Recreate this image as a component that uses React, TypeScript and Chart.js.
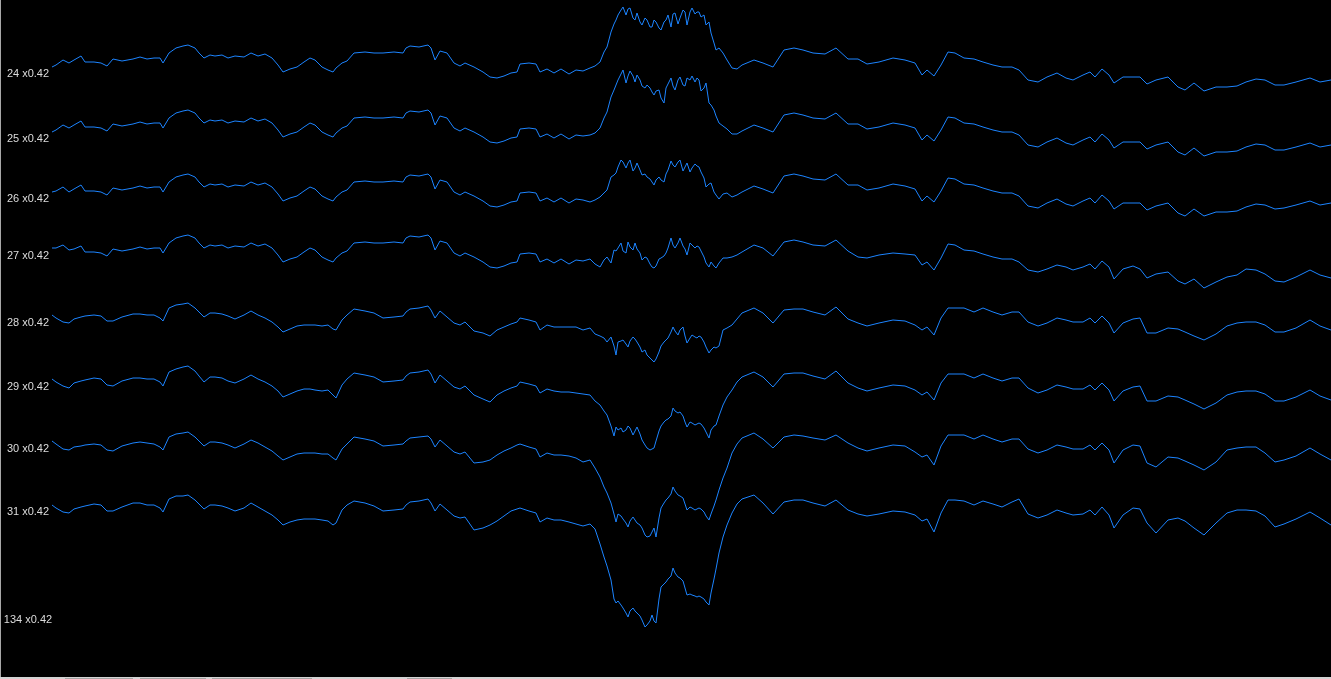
import React, { useEffect, useRef } from "react";
import { Chart, registerables } from "chart.js";

Chart.register(...registerables);

// Sample index along the time axis (shared by every channel)
const sampleIndex = [
  0, 4, 11, 17, 22, 29, 33, 42, 49, 55,
  61, 70, 81, 88, 95, 102, 108, 111, 117, 124,
  131, 136, 143, 147, 152, 158, 163, 170, 176, 183,
  192, 199, 206, 213, 220, 226, 231, 238, 245, 252,
  258, 263, 270, 276, 281, 284, 290, 295, 302, 313,
  322, 331, 342, 351, 354, 358, 367, 376, 379, 383,
  388, 395, 402, 408, 413, 422, 431, 438, 445, 452,
  459, 465, 468, 477, 484, 488, 495, 502, 509, 517,
  524, 531, 538,
  543, 548, 552, 555, 559, 562, 564, 566, 569, 571,
  574, 576, 578, 581, 583, 585, 588, 590, 593, 595,
  598, 600, 602, 604, 607, 609, 612, 614, 616, 619,
  621, 623, 626, 628, 631, 633, 635, 638, 640, 643,
  645, 647, 649, 652, 654, 657, 659, 662, 664, 667,
  671, 675, 680, 685, 690,
  702, 711, 721, 732, 742, 751, 761, 773, 784, 796,
  806, 815, 827, 841, 853, 863, 870, 875, 882, 889,
  896, 903, 912, 922, 931, 941, 950, 960, 967, 976,
  986, 995, 1005, 1014, 1021, 1031, 1038, 1043, 1050, 1057,
  1062, 1071, 1081, 1088, 1095, 1104, 1116, 1126, 1133, 1142,
  1152, 1164, 1175, 1185, 1194, 1204, 1213, 1223, 1232, 1244,
  1258, 1268, 1279,
];

const channelNames = ["24", "25", "26", "27", "28", "29", "30", "31", "134"];
const channelGain = "x0.42";

// Deflection of each channel (display units, positive = up)
const ch24 = [
  6, 8, 13, 10, 13, 17, 11, 11, 10, 7,
  14, 12, 14, 16, 14, 15, 15, 10, 20, 25,
  27, 28, 25, 20, 15, 18, 17, 18, 15, 17,
  16, 20, 17, 19, 15, 8, 1, 4, 6, 11,
  15, 13, 6, 3, 1, 5, 10, 12, 20, 21,
  20, 20, 21, 20, 25, 27, 26, 28, 25, 13,
  22, 20, 10, 7, 10, 6, 1, -4, -5, -3,
  0, 1, 9, 10, 9, 1, 4, 0, 4, -1,
  3, 2, 5,
  7, 11, 21, 26, 41, 49, 53, 58, 63, 66,
  58, 64, 65, 55, 53, 60, 51, 48, 55, 53,
  46, 46, 53, 51, 45, 43, 51, 53, 58, 46,
  59, 60, 49, 55, 63, 61, 48, 61, 65, 59,
  61, 61, 56, 58, 48, 51, 40, 30, 23, 25,
  20, 13, 5, 4, 8,
  13, 10, 6, 23, 25, 23, 20, 19, 25, 14,
  14, 9, 11, 15, 13, 10, -2, 3, -3, 8,
  21, 20, 15, 14, 11, 8, 6, 6, 3, -7,
  -9, -4, 0, -5, -7, -2, 1, -4, 4, -2,
  -10, -4, -4, -4, -11, -7, -4, -14, -17, -10,
  -18, -14, -14, -13, -9, -6, -7, -12, -12, -9,
  -5, -9, -7,
];

const ch25 = [
  6, 8, 13, 10, 13, 17, 11, 11, 10, 7,
  14, 12, 14, 16, 14, 15, 15, 10, 20, 25,
  27, 28, 25, 20, 15, 18, 17, 18, 15, 17,
  16, 20, 17, 19, 15, 8, 1, 4, 6, 11,
  15, 13, 6, 3, 1, 5, 10, 12, 20, 21,
  20, 20, 21, 20, 25, 27, 26, 28, 25, 13,
  22, 20, 10, 7, 10, 6, 1, -4, -5, -3,
  0, 1, 9, 10, 9, 1, 4, 0, 4, -1,
  3, 2, 3,
  5, 10, 20, 26, 41, 48, 53, 58, 64, 68,
  55, 62, 67, 62, 56, 63, 58, 52, 50, 53,
  50, 46, 43, 47, 48, 40, 35, 50, 54, 60,
  52, 48, 58, 61, 53, 52, 60, 58, 62, 56,
  60, 58, 47, 50, 55, 35, 33, 28, 22, 15,
  12, 9, 4, 4, 7,
  13, 10, 6, 23, 25, 23, 20, 19, 25, 14,
  14, 9, 11, 15, 13, 10, -2, 3, -3, 8,
  21, 20, 15, 14, 11, 8, 6, 6, 3, -7,
  -9, -4, 0, -5, -7, -2, 1, -4, 4, -2,
  -10, -4, -4, -4, -11, -7, -4, -14, -17, -10,
  -18, -14, -14, -13, -9, -6, -7, -12, -12, -9,
  -5, -9, -7,
];

const ch26 = [
  6, 7, 11, 6, 9, 13, 7, 7, 6, 3,
  10, 8, 10, 12, 10, 11, 11, 6, 16, 21,
  23, 24, 21, 16, 11, 14, 13, 14, 11, 13,
  12, 16, 13, 15, 11, 4, -3, 0, 2, 7,
  11, 9, 2, -1, -3, 1, 6, 8, 16, 17,
  16, 16, 17, 16, 21, 23, 22, 24, 21, 9,
  18, 16, 6, 3, 6, 2, -3, -8, -9, -7,
  -4, -3, 5, 6, 5, -3, 0, -4, 0, -5,
  -1, -2, -4,
  -2, 1, 5, 8, 21, 23, 25, 31, 38, 36,
  30, 35, 38, 27, 30, 35, 28, 23, 24, 21,
  19, 16, 13, 18, 21, 18, 16, 24, 28, 37,
  33, 31, 36, 38, 27, 31, 35, 26, 30, 34,
  32, 31, 26, 20, 11, 14, 15, 6, 3, -1,
  4, 5, 1, 3, 6,
  12, 9, 5, 22, 24, 22, 19, 18, 24, 13,
  13, 8, 10, 14, 12, 9, -3, 2, -4, 7,
  20, 19, 14, 13, 10, 7, 5, 5, 2, -8,
  -10, -5, -1, -6, -8, -3, 0, -5, 3, -3,
  -11, -5, -5, -5, -12, -8, -5, -15, -18, -11,
  -18, -14, -14, -13, -9, -6, -7, -11, -10, -7,
  -3, -7, -5,
];

const ch27 = [
  7, 7, 10, 5, 6, 9, 3, 3, 2, -1,
  6, 4, 6, 8, 6, 7, 7, 2, 12, 17,
  19, 20, 17, 12, 7, 10, 9, 10, 7, 9,
  8, 12, 9, 11, 7, 0, -7, -4, -2, 3,
  7, 5, -2, -5, -7, -3, 2, 4, 12, 13,
  12, 12, 13, 12, 17, 19, 18, 20, 17, 5,
  14, 12, 2, -1, 2, -2, -7, -12, -13, -11,
  -8, -7, 1, 2, 1, -7, -4, -8, -4, -9,
  -5, -6, -4,
  -9, -12, -5, -2, -8, 5, 4, 7, 12, 4,
  2, 13, 8, 5, 12, 6, 2, -5, -2, -3,
  -9, -12, -13, -11, -4, -3, -1, 2, 7, 17,
  10, 7, 12, 17, 9, 6, 0, 12, 10, 7,
  9, 8, 4, -2, -8, -12, -7, -11, -13, -8,
  -3, -3, -2, 0, 3,
  10, 7, -1, 13, 15, 13, 10, 9, 15, 4,
  -2, -3, 0, 2, 1, 0, -10, -7, -15, -3,
  11, 10, 5, 4, 1, -2, -4, -4, -7, -15,
  -17, -14, -10, -12, -15, -12, -9, -14, -6, -12,
  -24, -14, -11, -14, -23, -19, -17, -26, -29, -24,
  -33, -27, -22, -20, -14, -15, -19, -26, -27, -22,
  -15, -20, -23,
];

const ch28 = [
  7, 4, 0, -1, 3, 5, 6, 7, 6, 1,
  1, 5, 8, 8, 7, 7, 4, 1, 14, 17,
  18, 19, 14, 10, 5, 9, 9, 8, 6, 3,
  7, 11, 7, 4, 0, -5, -10, -7, -4, -3,
  -3, -3, -4, -3, -7, -8, 2, 7, 13, 11,
  9, 4, 5, 6, 10, 13, 14, 16, 12, 4,
  11, 5, -1, -3, 0, -9, -11, -14, -8, -5,
  -2, 0, 4, 2, 0, -8, -3, -5, -5, -5,
  -5, -8, -6,
  -12, -14, -16, -20, -15, -24, -33, -20, -19, -18,
  -22, -25, -19, -15, -17, -20, -25, -30, -28, -33,
  -36, -38, -40, -37, -30, -24, -20, -18, -16, -10,
  -5, -9, -13, -8, -5, -14, -21, -16, -13, -15,
  -16, -14, -15, -20, -25, -31, -28, -25, -26, -24,
  -8, -6, -3, 3, 9,
  14, 9, -1, 12, 13, 13, 10, 7, 15, 3,
  -1, -4, -1, 2, 1, -3, -8, -5, -13, 4,
  14, 14, 14, 10, 14, 10, 7, 10, 10, 0,
  -4, -1, 4, 2, 0, 0, 4, -1, 6, -1,
  -11, -1, 3, 4, -11, -11, -6, -7, -10, -14,
  -18, -12, -4, -1, 0, 0, -3, -10, -10, -6,
  2, -4, -8,
];

const ch29 = [
  7, 4, 0, -2, 3, 5, 6, 8, 7, 1,
  0, 5, 8, 8, 7, 7, 4, 0, 14, 17,
  19, 20, 15, 10, 4, 9, 9, 8, 5, 3,
  7, 11, 7, 4, 0, -5, -11, -8, -5, -3,
  -3, -4, -5, -4, -9, -12, 1, 7, 13, 11,
  9, 4, 5, 6, 10, 13, 14, 16, 12, 3,
  11, 5, -1, -3, 0, -9, -13, -16, -9, -5,
  -2, 0, 4, 2, 0, -7, -3, -5, -6, -6,
  -7, -8, -9,
  -15, -19, -25, -29, -40, -50, -41, -44, -42, -46,
  -44, -40, -42, -49, -45, -41, -48, -54, -59, -62,
  -64, -63, -62, -55, -45, -40, -36, -34, -33, -30,
  -22, -25, -27, -26, -30, -36, -41, -36, -37, -39,
  -38, -37, -38, -42, -46, -52, -44, -40, -39, -30,
  -19, -11, -4, 4, 9,
  14, 9, -1, 12, 13, 13, 10, 7, 15, 3,
  -2, -5, -2, 1, 0, -4, -9, -6, -14, 3,
  12, 12, 12, 8, 12, 8, 5, 8, 8, -2,
  -7, -4, 1, -1, -3, -3, 1, -4, 3, -4,
  -15, -5, -1, 0, -15, -15, -10, -11, -14, -18,
  -23, -17, -9, -6, -5, -5, -8, -15, -15, -11,
  -4, -10, -14,
];

const ch30 = [
  7, 4, -1, -2, 1, 2, 3, 4, 3, -2,
  -3, 2, 5, 6, 5, 4, 1, -2, 11, 14,
  15, 16, 11, 7, 2, 6, 6, 5, 3, 0,
  4, 8, 5, 1, -3, -8, -12, -9, -6, -5,
  -5, -5, -6, -6, -10, -12, -1, 4, 11, 9,
  7, 2, 3, 4, 7, 10, 11, 12, 9, 1,
  8, 2, -4, -6, -4, -15, -14, -12, -7, -3,
  0, 3, 4, 1, -1, -9, -5, -7, -7, -8,
  -10, -14, -12,
  -20, -29, -39, -45, -55, -66, -74, -66, -68, -71,
  -75, -79, -73, -69, -72, -75, -77, -80, -87, -89,
  -88, -84, -80, -89, -70, -60, -55, -52, -50, -46,
  -39, -43, -47, -48, -50, -56, -62, -59, -60, -62,
  -61, -60, -61, -64, -68, -72, -66, -58, -52, -42,
  -30, -20, -5, 4, 10,
  15, 9, 0, 11, 13, 12, 10, 8, 13, 5,
  0, -3, 0, 3, 2, -4, -9, -7, -17, 2,
  13, 13, 13, 9, 13, 9, 6, 9, 9, -1,
  -5, -2, 3, 1, -1, -1, 3, -2, 5, -2,
  -15, -2, 3, 2, -15, -19, -9, -10, -13, -17,
  -22, -14, -2, 0, 1, 1, -5, -14, -12, -8,
  0, -6, -12,
];

const ch31 = [
  6, 3, -1, -2, 2, 4, 5, 7, 6, 0,
  0, 4, 8, 8, 6, 6, 3, -1, 12, 15,
  15, 16, 11, 7, 2, 6, 6, 5, 3, 0,
  3, 8, 4, 0, -4, -9, -14, -11, -9, -8,
  -8, -8, -9, -10, -14, -12, 1, 6, 10, 8,
  5, 0, 1, 2, 6, 9, 10, 12, 8, 0,
  7, 1, -5, -7, -6, -19, -17, -14, -10, -5,
  0, 2, 3, 0, -2, -11, -7, -9, -9, -11,
  -13, -15, -13,
  -18, -33, -46, -55, -69, -88, -92, -90, -94, -97,
  -102, -106, -100, -97, -100, -102, -105, -109, -116, -114,
  -110, -104, -110, -112, -88, -76, -73, -71, -68, -65,
  -57, -62, -66, -67, -70, -77, -84, -83, -84, -85,
  -86, -85, -86, -88, -91, -94, -82, -68, -58, -42,
  -26, -14, -2, 7, 12,
  16, 8, -3, 9, 11, 11, 8, 5, 11, 1,
  -3, -5, -3, 0, -1, -4, -10, -8, -21, -2,
  11, 11, 10, 6, 10, 7, 4, 9, 12, -3,
  -7, -4, 1, -2, -4, -3, 1, -4, 4, -4,
  -17, -4, 3, 2, -12, -22, -9, -7, -10, -17,
  -24, -12, -2, 1, 1, 0, -5, -16, -13, -8,
  -1, -7, -14,
];

const ch134: number[] = [];

// Layout: screen row (px from top) of each channel's zero line
const ROW_BASELINES = [73, 138, 198, 255, 322, 386, 448, 511, 619];

const LINE_COLOR = "rgb(28,132,255)";
const WIDTH = 1331;
const HEIGHT = 677;

export default function App() {
  const ref = useRef<HTMLCanvasElement | null>(null);

  useEffect(() => {
    document.body.style.margin = "0";
    document.body.style.background = "#000";
    const series = [ch24, ch25, ch26, ch27, ch28, ch29, ch30, ch31, ch134];
    const datasets = series.map((vals, k) => ({
      label: channelNames[k],
      data: vals.map((v, i) => ({ x: sampleIndex[i], y: ROW_BASELINES[k] - v })),
      borderColor: LINE_COLOR,
      backgroundColor: LINE_COLOR,
      borderWidth: 1,
      pointRadius: 0,
      tension: 0,
      fill: false,
    }));

    const rowLabels = {
      id: "rowLabels",
      afterDatasetsDraw(chart: any) {
        const ctx = chart.ctx;
        const yScale = chart.scales.y;
        ctx.save();
        ctx.font = '11px "Liberation Sans", Arial, sans-serif';
        ctx.fillStyle = "#dcdcdc";
        ctx.textAlign = "center";
        ctx.textBaseline = "alphabetic";
        channelNames.forEach((name, k) => {
          ctx.fillText(`${name} ${channelGain}`, 28, yScale.getPixelForValue(ROW_BASELINES[k]) + 4);
        });
        ctx.restore();
      },
    };

    const chart = new Chart(ref.current as HTMLCanvasElement, {
      type: "line",
      data: { datasets: datasets as any },
      options: {
        responsive: false,
        animation: false,
        events: [],
        layout: { padding: { left: 52, right: 0, top: 0, bottom: 0 } },
        plugins: { legend: { display: false }, tooltip: { enabled: false } },
        scales: {
          x: { type: "linear", min: 0, max: 1279, display: false },
          y: { type: "linear", min: 0, max: HEIGHT, reverse: true, display: false },
        },
      },
      plugins: [rowLabels],
    });
    return () => chart.destroy();
  }, []);

  const segments = [
    [65, 68],
    [140, 66],
    [212, 100],
    [407, 45],
  ];

  return (
    <div style={{ position: "fixed", left: 0, top: 0, width: WIDTH, height: 679, background: "#000", overflow: "hidden" }}>
      <canvas ref={ref} width={WIDTH} height={HEIGHT} style={{ display: "block", width: WIDTH, height: HEIGHT }} />
      <div style={{ position: "absolute", left: 0, top: 0, width: 1, height: 679, background: "#a8a8a8" }} />
      <div style={{ position: "absolute", left: 0, top: HEIGHT, width: WIDTH, height: 2, background: "#d4d4d4" }}>
        {segments.map(([l, w], i) => (
          <div key={i} style={{ position: "absolute", left: l, top: 1, width: w, height: 1, background: "#a4a4a4" }} />
        ))}
      </div>
    </div>
  );
}
